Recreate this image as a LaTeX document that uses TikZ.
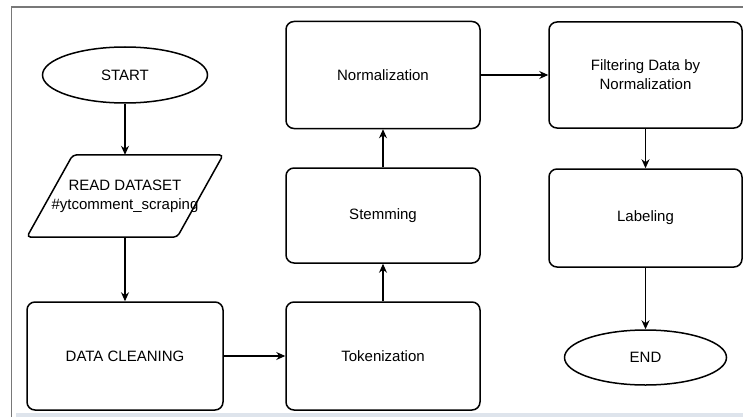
\documentclass[tikz,border=0pt]{standalone}
\usepackage{fontspec}
\setmainfont{Liberation Sans}
\usetikzlibrary{arrows.meta, shapes.geometric}
\definecolor{FrameGray}{RGB}{120,120,120}
\definecolor{StripBlue}{RGB}{222,228,236}

\begin{document}
\begin{tikzpicture}[x=1pt, y=-1pt,
	font=\fontsize{15}{19}\selectfont,
	box/.style={draw, line width=1.5pt, rounded corners=8pt, align=center, inner sep=0pt},
	term/.style={draw, ellipse, line width=1.5pt, inner sep=0pt},
	io/.style={align=center, inner sep=0pt, minimum width=196pt, minimum height=82pt},
	flow/.style={-{Stealth[length=9pt, width=8pt]}, line width=1.1pt}]
		\useasboundingbox (0,0) rectangle (743,417);
		\fill[StripBlue] (16,412.5) rectangle (743,417);
		\draw[FrameGray, line width=1.2pt] (11.5,417) -- (11.5,7) -- (743,7);
		\node[term, minimum width=165pt, minimum height=56pt] (start) at (125,75) {START};
		\node[io] (read) at (125,196) {READ DATASET\\\#ytcomment\_scraping};
		\draw[line width=1.5pt, rounded corners=4pt] (read.south west) -- ([xshift=46pt]read.north west) -- (read.north east) -- ([xshift=-46pt]read.south east) -- cycle;
		\node[box, minimum width=196pt, minimum height=108pt] (clean) at (125,356) {DATA CLEANING};
		\node[box, minimum width=194pt, minimum height=108pt] (token) at (383,356) {Tokenization};
		\node[box, minimum width=194pt, minimum height=95pt] (stem) at (383,215.5) {Stemming};
		\node[box, minimum width=194pt, minimum height=107pt] (norm) at (383,75) {Normalization};
		\node[box, minimum width=193pt, minimum height=106pt] (filter) at (645.5,75) {Filtering Data by\\Normalization};
		\node[box, minimum width=193pt, minimum height=98pt] (label) at (645.5,218) {Labeling};
		\node[term, minimum width=162pt, minimum height=55pt] (end) at (645.5,357.5) {END};
		\draw[flow] (start.south) -- (read.north);
		\draw[flow] (read.south) -- (clean.north);
		\draw[flow] (clean.east) -- (token.west);
		\draw[flow] (token.north) -- (stem.south);
		\draw[flow] (stem.north) -- (norm.south);
		\draw[flow] (norm.east) -- (filter.west);
		\draw[flow] (filter.south) -- (label.north);
		\draw[flow] (label.south) -- (end.north);
	\end{tikzpicture}
\end{document}
